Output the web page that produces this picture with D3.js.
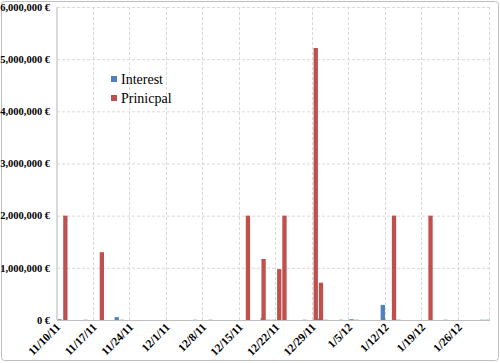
<!DOCTYPE html>
<html>
<head>
<meta charset="utf-8">
<script src="https://cdn.jsdelivr.net/npm/d3@7"></script>
<style>
  body { margin: 0; background: #fff; }
</style>
</head>
<body>
<div class="chart"></div>
<script>
// payment dates and amounts (EUR)
const dates = ["2011-11-10", "2011-11-11", "2011-11-15", "2011-11-18", "2011-11-21", "2011-11-22",
  "2011-12-06", "2011-12-09", "2011-12-16", "2011-12-19", "2011-12-20", "2011-12-21",
  "2011-12-22", "2011-12-23", "2011-12-27", "2011-12-29", "2011-12-30", "2011-12-31",
  "2012-01-03", "2012-01-05", "2012-01-06", "2012-01-11", "2012-01-13", "2012-01-14",
  "2012-01-20", "2012-01-23", "2012-01-30", "2012-01-31"];
const interest = [15000, 0, 5000, 0, 55000, 5000,
  5000, 5000, 0, 40000, 5000, 5000,
  0, 0, 5000, 0, 25000, 5000,
  5000, 15000, 5000, 290000, 0, 5000,
  0, 5000, 5000, 5000];
const principal = [0, 2000000, 0, 1300000, 0, 0,
  0, 0, 2000000, 1170000, 0, 0,
  975000, 2000000, 0, 5215000, 715000, 0,
  0, 0, 0, 8000, 2000000, 0,
  2000000, 0, 0, 0];
const seriesNames = ["Interest", "Prinicpal"];
const colours = ["#4f81bd", "#c0504d"];
const yTicks = [0, 1000000, 2000000, 3000000, 4000000, 5000000, 6000000];
const dateStart = "2011-11-10", dateEnd = "2012-02-01";

const width = 500, height = 363;
const margin = {top: 7, right: 10, bottom: 43, left: 57};
const serif = "'Liberation Serif', 'DejaVu Serif', serif";

const parse = d3.utcParse("%Y-%m-%d");

const svg = d3.select(".chart").append("svg")
    .attr("width", width)
    .attr("height", height)
    .attr("font-family", serif);

// outer frame
svg.append("rect")
    .attr("x", 1.5).attr("y", 1.5)
    .attr("width", width - 3).attr("height", height - 4)
    .attr("rx", 3)
    .attr("fill", "none")
    .attr("stroke", "#bfbfbf");

const x = d3.scaleUtc()
    .domain([parse(dateStart), parse(dateEnd)])
    .range([margin.left, width - margin.right]);

const y = d3.scaleLinear()
    .domain([0, 6000000])
    .range([height - margin.bottom, margin.top]);

const dayW = x(d3.utcDay.offset(parse(dateStart), 1)) - x(parse(dateStart));
const barW = 4.3;
const shift = [0.45, 0.6]; // centre of each series inside its day

const weekTicks = d3.utcThursday.range(parse(dateStart), parse(dateEnd));

// grid
svg.append("g")
    .attr("stroke", "#d9d9d9")
    .attr("stroke-dasharray", "3,2")
  .selectAll("line")
  .data(yTicks.slice(1))
  .join("line")
    .attr("x1", margin.left).attr("x2", width - margin.right)
    .attr("y1", d => y(d) + 0.5).attr("y2", d => y(d) + 0.5);

svg.append("g")
    .attr("stroke", "#d9d9d9")
    .attr("stroke-dasharray", "3,2")
  .selectAll("line")
  .data(weekTicks.slice(1).concat([parse(dateEnd)]))
  .join("line")
    .attr("x1", d => Math.round(x(d)) - 0.5).attr("x2", d => Math.round(x(d)) - 0.5)
    .attr("y1", margin.top).attr("y2", y(0));

// bars
const rows = dates.map((d, i) => ({date: parse(d), values: [interest[i], principal[i]]}));
const bars = rows.flatMap(r => r.values.map((v, s) => ({date: r.date, value: v, s})))
    .filter(d => d.value > 0);

svg.append("g")
  .selectAll("rect")
  .data(bars)
  .join("rect")
    .attr("x", d => x(d.date) + dayW * shift[d.s] - barW / 2)
    .attr("y", d => y(d.value))
    .attr("width", barW)
    .attr("height", d => y(0) - y(d.value))
    .attr("fill", d => colours[d.s]);

// axes lines
svg.append("line")
    .attr("x1", margin.left).attr("x2", margin.left)
    .attr("y1", margin.top).attr("y2", y(0))
    .attr("stroke", "#d9d9d9").attr("stroke-width", 2);
svg.append("line")
    .attr("x1", margin.left).attr("x2", width - margin.right)
    .attr("y1", y(0) + 0.5).attr("y2", y(0) + 0.5)
    .attr("stroke", "#bfbfbf");

// y labels
const fmt = d3.format(",");
svg.append("g")
    .attr("font-size", 10.5)
    .attr("font-weight", "bold")
    .attr("text-anchor", "end")
  .selectAll("text")
  .data(yTicks)
  .join("text")
    .attr("x", margin.left - 7)
    .attr("y", d => y(d))
    .attr("dy", "0.35em")
    .text(d => fmt(d) + " €");

// x labels
const xfmt = d3.utcFormat("%-m/%-d/%y");
svg.append("g")
    .attr("font-size", 11.5)
    .attr("font-weight", "bold")
    .attr("text-anchor", "end")
  .selectAll("text")
  .data(weekTicks)
  .join("text")
    .attr("transform", d => `translate(${x(d) + 4},${y(0) + 8}) rotate(-45)`)
    .text(d => xfmt(d));

// legend
const legend = svg.append("g")
    .attr("transform", "translate(111,76)")
  .selectAll("g")
  .data(seriesNames)
  .join("g")
    .attr("transform", (d, i) => `translate(0,${i * 19})`);
legend.append("rect")
    .attr("width", 6).attr("height", 6)
    .attr("fill", (d, i) => colours[i]);
legend.append("text")
    .attr("x", 10).attr("y", 3)
    .attr("dy", "0.35em")
    .attr("font-size", 14)
    .text(d => d);
</script>
</body>
</html>
